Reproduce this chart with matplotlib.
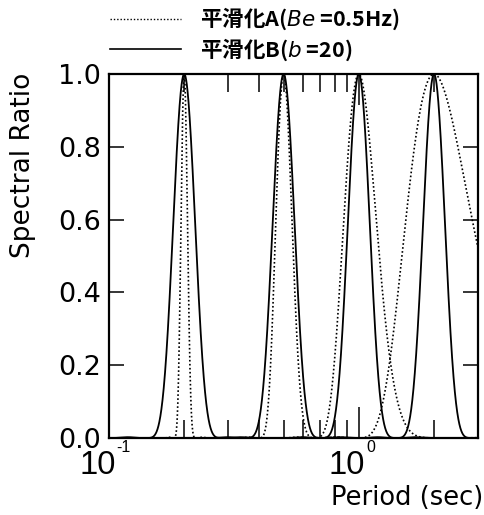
"""
Smoothing window shapes on a period axis: Parzen (A) vs Konno-Ohmachi (B).
"""

import numpy as np
import matplotlib
matplotlib.use("Agg")
import matplotlib.pyplot as plt
import matplotlib.transforms as mtransforms
from matplotlib.lines import Line2D
from matplotlib.ticker import (NullFormatter, FormatStrFormatter, LogLocator,
                               FixedLocator, FixedFormatter)

plt.rcParams['font.family'] = ['DejaVu Sans', 'Noto Sans CJK JP']
plt.rcParams['mathtext.fontset'] = 'dejavusans'

# window centre periods (sec)
center_periods = [0.2, 0.5, 1.0, 2.0]
# smoothing A: Parzen window, bandwidth Be (Hz)
parzen_be = 0.5
# smoothing B: Konno-Ohmachi window, coefficient b
ko_b = 20

period_range = [0.1, 3.0]
y_ticks = [0.0, 0.2, 0.4, 0.6, 0.8, 1.0]
x_decades = [0.1, 1.0]
x_exponents = ['-1', '0']

label_a = '平滑化A($\\mathit{Be}$ =0.5Hz)'
label_b = '平滑化B($\\mathit{b}$ =20)'
x_label = 'Period (sec)'
y_label = 'Spectral Ratio'


def sinc4(d):
    d = np.where(np.abs(d) < 1e-9, 1e-9, d)
    return (np.sin(d) / d) ** 4


def parzen(period, tc, be):
    u = 280.0 / (151.0 * be)
    df = 1.0 / period - 1.0 / tc
    return sinc4(np.pi * u * df / 2.0)


def konno_ohmachi(period, tc, b):
    return sinc4(b * np.log10(period / tc))


period = np.logspace(np.log10(period_range[0]), np.log10(period_range[1]), 4000)

fig = plt.figure(figsize=(4.84, 5.15), dpi=100)
ax = fig.add_axes([109 / 484, 1 - 438 / 515, 369 / 484, 364 / 515])

dot_style = (0, (1.0, 1.4))
for tc in center_periods:
    ax.plot(period, parzen(period, tc, parzen_be), color='k', lw=1.2, ls=dot_style)
    ax.plot(period, konno_ohmachi(period, tc, ko_b), color='k', lw=1.3)

ax.set_xscale('log')
ax.set_xlim(*period_range)
ax.set_ylim(0, 1.0)
ax.set_yticks(y_ticks)
ax.yaxis.set_major_formatter(FormatStrFormatter('%.1f'))
ax.xaxis.set_major_locator(FixedLocator(x_decades))
ax.xaxis.set_major_formatter(FixedFormatter(['10'] * len(x_decades)))
ax.xaxis.set_minor_locator(LogLocator(base=10, subs=np.arange(2, 10)))
ax.xaxis.set_minor_formatter(NullFormatter())

for s in ax.spines.values():
    s.set_linewidth(1.6)

ax.tick_params(axis='y', which='major', direction='in', left=True, right=True,
               length=11, width=1.1, labelsize=19.5, pad=6)
ax.tick_params(axis='x', which='major', direction='in', bottom=True, top=True,
               length=22, width=1.1, labelsize=23.5, pad=9)
ax.tick_params(axis='x', which='minor', direction='in', bottom=True, top=True,
               length=13, width=1.1)

# base "10" sits left of its tick, the exponent tucked up at its right
shift = mtransforms.ScaledTranslation(-8.5 / 72, 0, fig.dpi_scale_trans)
for lbl in ax.get_xticklabels():
    lbl.set_fontfamily('Liberation Sans')
    lbl.set_transform(lbl.get_transform() + shift)
for v, e in zip(x_decades, x_exponents):
    ax.annotate(e, xy=(v, 0), xycoords=('data', 'axes fraction'),
                xytext=(5.2, -1.5), textcoords='offset points',
                ha='left', va='top', fontsize=11.5, family='Liberation Sans')

ax.set_xlabel(x_label, fontsize=18.5, ha='right')
ax.xaxis.set_label_coords(1.015, -0.13)
ax.set_ylabel(y_label, fontsize=19)
ax.yaxis.set_label_coords(-0.197, 0.75)

handles = [Line2D([], [], color='k', lw=1.0, ls=dot_style),
           Line2D([], [], color='k', lw=1.2)]
fig.legend(handles, [label_a, label_b], loc='upper left',
           bbox_to_anchor=(110 / 484, 1 - 6 / 515), bbox_transform=fig.transFigure,
           frameon=False, borderpad=0, borderaxespad=0, handlelength=3.3,
           handletextpad=0.9, labelspacing=0.18,
           prop={'family': 'Noto Sans CJK JP', 'size': 15.5, 'weight': 'bold'})

fig.savefig('out.png', dpi=100)
